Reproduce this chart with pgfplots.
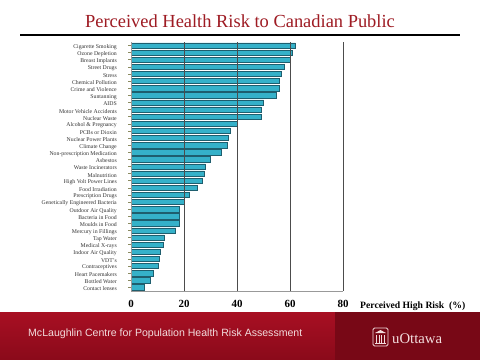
\documentclass[border=0pt]{standalone}
\usepackage{pgfplots}
\pgfplotsset{compat=1.18}
\usepackage{fontspec}
\setmainfont{Liberation Serif}
\newfontfamily\sansf{Liberation Sans}
\definecolor{titlered}{HTML}{9E1B23}
\definecolor{barfill}{HTML}{35B1C9}
\definecolor{baredge}{HTML}{1E5E6E}
\definecolor{bannerA}{HTML}{A80F23}
\definecolor{bannerB}{HTML}{8A0A1A}
\definecolor{bannerR}{HTML}{780816}
\definecolor{bantext}{HTML}{F2DCDD}
\definecolor{ytickc}{HTML}{8A8A60}
\begin{document}
\begin{tikzpicture}
\fill[white] (0bp,0bp) rectangle (480bp,-360bp);
\node[anchor=base, text=titlered, font=\fontsize{18.5}{21}\selectfont, inner sep=0pt] at (240bp,-27bp) {Perceived Health Risk to Canadian Public};
\draw[line width=1.6bp] (20bp,-35bp) -- (460bp,-35bp);
\shade[top color=bannerA, bottom color=bannerB] (0bp,-312bp) rectangle (335bp,-360bp);
\fill[bannerR] (335bp,-312bp) rectangle (480bp,-360bp);
\node[anchor=base west, text=bantext, font=\sansf\fontsize{10.6}{12}\selectfont, inner sep=0pt] at (28bp,-336bp) {McLaughlin Centre for Population Health Risk Assessment};
% uOttawa logo
\begin{scope}[x=1bp,y=1bp]
\draw[bantext, line width=0.8bp, rounded corners=1.5bp] (373,-328) rectangle (388,-346);
\fill[bantext] (375,-333) -- (380.5,-330) -- (386,-333) -- cycle;
\foreach \xx in {376,378.5,381,383.5} {\fill[bantext] (\xx,-334.5) rectangle ++(1.2,-8);}
\fill[bantext] (375,-343) rectangle (386,-344.2);
\end{scope}
\node[anchor=base west, text=bantext, font=\fontsize{14.8}{16}\selectfont, inner sep=0pt] at (392bp,-343bp) {uOttawa};
\node[anchor=base west, font=\bfseries\fontsize{9.7}{11}\selectfont, inner sep=0pt] at (360bp,-308bp) {Perceived High Risk \ (\%)};
\begin{axis}[
  at={(131bp,-291bp)}, anchor=south west,
  scale only axis, width=212bp, height=249bp,
  xmin=0, xmax=80, ymin=-0.5, ymax=34.5,
  y dir=reverse,
  axis x line=bottom, axis y line=left,
  axis line style={-, draw=gray!80, line width=0.9bp},
  xbar, bar width=5.3bp,
  xtick={0,20,40,60,80},
  xmajorgrids,
  major grid style={draw=black!70, line width=0.8bp},
  axis on top,
  xtick style={draw=none},
  ytick={0,...,34},
  ytick style={draw=ytickc, line width=0.6bp},
  tick align=outside,
  major tick length=3bp,
  /pgf/number format/assume math mode=true,
  xticklabel style={font=\bfseries\fontsize{11}{12}\selectfont, yshift=-3bp},
  yticklabel style={font=\fontsize{5.8}{6.5}\selectfont, text=black!80, yshift=-1.5bp, xshift=-10bp, inner sep=1pt},
  yticklabels={Cigarette Smoking, Ozone Depletion, Breast Implants, Street Drugs, Stress, Chemical Pollution, Crime and Violence, Suntanning, AIDS, Motor Vehicle Accidents, Nuclear Waste, Alcohol \& Pregnancy, PCBs or Dioxin, Nuclear Power Plants, Climate Change, Non-prescription Medication, Asbestos, Waste Incinerators, Malnutrition, High Volt Power Lines, Food Irradiation, Prescription Drugs, Genetically Engineered Bacteria, Outdoor Air Quality, Bacteria in Food, Moulds in Food, Mercury in Fillings, Tap Water, Medical X-rays, Indoor Air Quality, VDT's, Contraceptives, Heart Pacemakers, Bottled Water, Contact lenses},
]
\addplot[fill=barfill, draw=baredge, line width=0.6bp] coordinates {
(62,0) (61,1) (60,2) (58,3) (56.6,4) (56.1,5) (56,6) (55,7) (50,8) (49,9) (49,10)
(40,11) (37.3,12) (36.6,13) (36.2,14) (34.1,15) (30,16) (28.1,17) (27.5,18) (27,19)
(25,20) (22,21) (20,22) (18.2,23) (18.2,24) (18.2,25) (16.9,26) (12.5,27) (12.2,28)
(11.2,29) (10.5,30) (10.2,31) (8.6,32) (7.1,33) (5,34)
};
\end{axis}
\end{tikzpicture}
\end{document}
